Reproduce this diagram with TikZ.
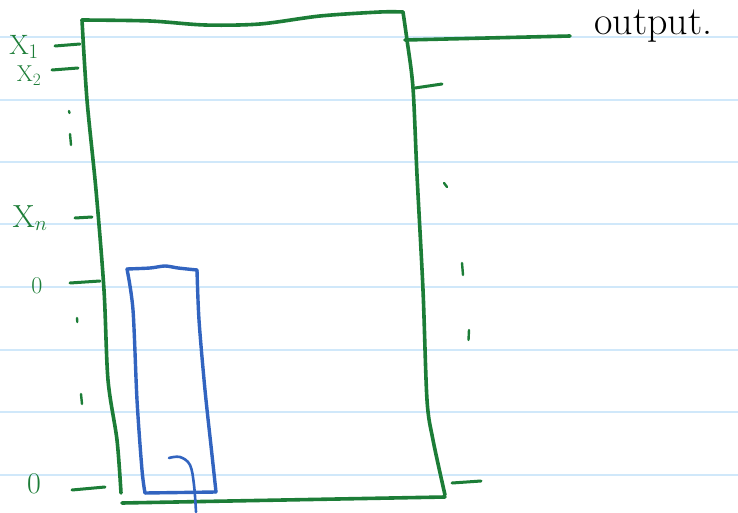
\documentclass[tikz,border=0pt]{standalone}
\usepackage{fontspec}
\usepackage{tikz}
\usetikzlibrary{positioning}
\definecolor{penGreen}{RGB}{28,125,55}
\definecolor{penBlue}{RGB}{50,100,192}
\definecolor{ruleBlue}{RGB}{208,232,250}

\begin{document}
\begin{tikzpicture}[x=1pt, y=-1pt, line cap=round, line join=round,
  greenpen/.style={penGreen, line width=3.6pt},
  bluepen/.style={penBlue, line width=3.4pt},
  tickmark/.style={penGreen, line width=3pt},
  inlabel/.style={penGreen, inner sep=0pt, font=\fontsize{28}{30}\selectfont}]
  \useasboundingbox (0,0) rectangle (738,513);
  \fill[white] (0,0) rectangle (738,513);

  % Ruled paper lines
  \foreach \y in {37,100,162,224,287,350,412,475} {
    \draw[ruleBlue, line width=1.5pt] (0,\y) -- (738,\y);
  }

  % Outer (green) block
  \draw[greenpen] plot[smooth, tension=0.5] coordinates {(82,20) (150,21) (205,25) (260,24) (320,16) (380,12) (403,12)};
  \draw[greenpen] plot[smooth, tension=0.5] coordinates {(403,12) (407,40) (413,88) (417,175) (423,290) (427,400) (433,440) (445,495)};
  \draw[greenpen] (122,503) -- (445,497);
  \draw[greenpen] plot[smooth, tension=0.5] coordinates {(82,20) (87,100) (96,190) (104,290) (108,380) (117,440) (121,493)};

  % Output line + label
  \draw[greenpen] (405,40) -- (570,36) coordinate (outEnd);
  \node[black, anchor=west, inner sep=0pt, font=\fontsize{40}{44}\selectfont] (outLbl) at (594,26) {output.};

  % Input stubs and labels
  \draw[tickmark] (55,46) -- (80,44);
  \draw[tickmark] (52,70) -- (78,68);
  \draw[tickmark] (75,218) -- (92,217);
  \draw[tickmark] (70,283) -- (100,281);
  \draw[tickmark] (72,490) -- (105,487);
  \node[inlabel] (xOne) at (24,47) {X$_1$};
  \node[inlabel, font=\fontsize{23}{25}\selectfont] (xTwo) at (29,76) {X$_2$};
  \node[inlabel, font=\fontsize{32}{34}\selectfont] (xN) at (30,218) {X$_n$};
  \node[inlabel, font=\fontsize{24}{26}\selectfont] (zeroTop) at (37,286) {0};
  \node[inlabel, font=\fontsize{30}{32}\selectfont] (zeroBot) at (34,484) {0};

  % Dots (left)
  \draw[tickmark, line width=2.4pt] (69,111) -- (69.5,113);
  \draw[tickmark, line width=2.4pt] (70,134) -- (71,145);
  \draw[tickmark, line width=2.4pt] (77,318) -- (77.3,322);
  \draw[tickmark, line width=2.4pt] (81,394) -- (82,404);

  % Right stubs and dots
  \draw[tickmark] (415,88) -- (442,84);
  \draw[tickmark] (452,483) -- (481,481);
  \draw[tickmark, line width=2.4pt] (444,183) -- (447,187);
  \draw[tickmark, line width=2.4pt] (462,263) -- (463,275);
  \draw[tickmark, line width=2.4pt] (469,330) -- (468.5,340);

  % Inner (blue) block
  \draw[bluepen] plot[smooth, tension=0.5] coordinates {(127,269) (150,268) (165,266) (178,268) (197,270)};
  \draw[bluepen] plot[smooth, tension=0.5] coordinates {(197,270) (199,320) (205,390) (212,455) (216,492)};
  \draw[bluepen] (216,492) -- (145,493);
  \draw[bluepen] plot[smooth, tension=0.5] coordinates {(145,493) (142,470) (137,400) (133,310) (127,269)};
  \draw[penBlue, line width=2.6pt] plot[smooth, tension=0.6] coordinates {(169,458) (180,457) (190,465) (194,485) (196,512)};
\end{tikzpicture}
\end{document}
